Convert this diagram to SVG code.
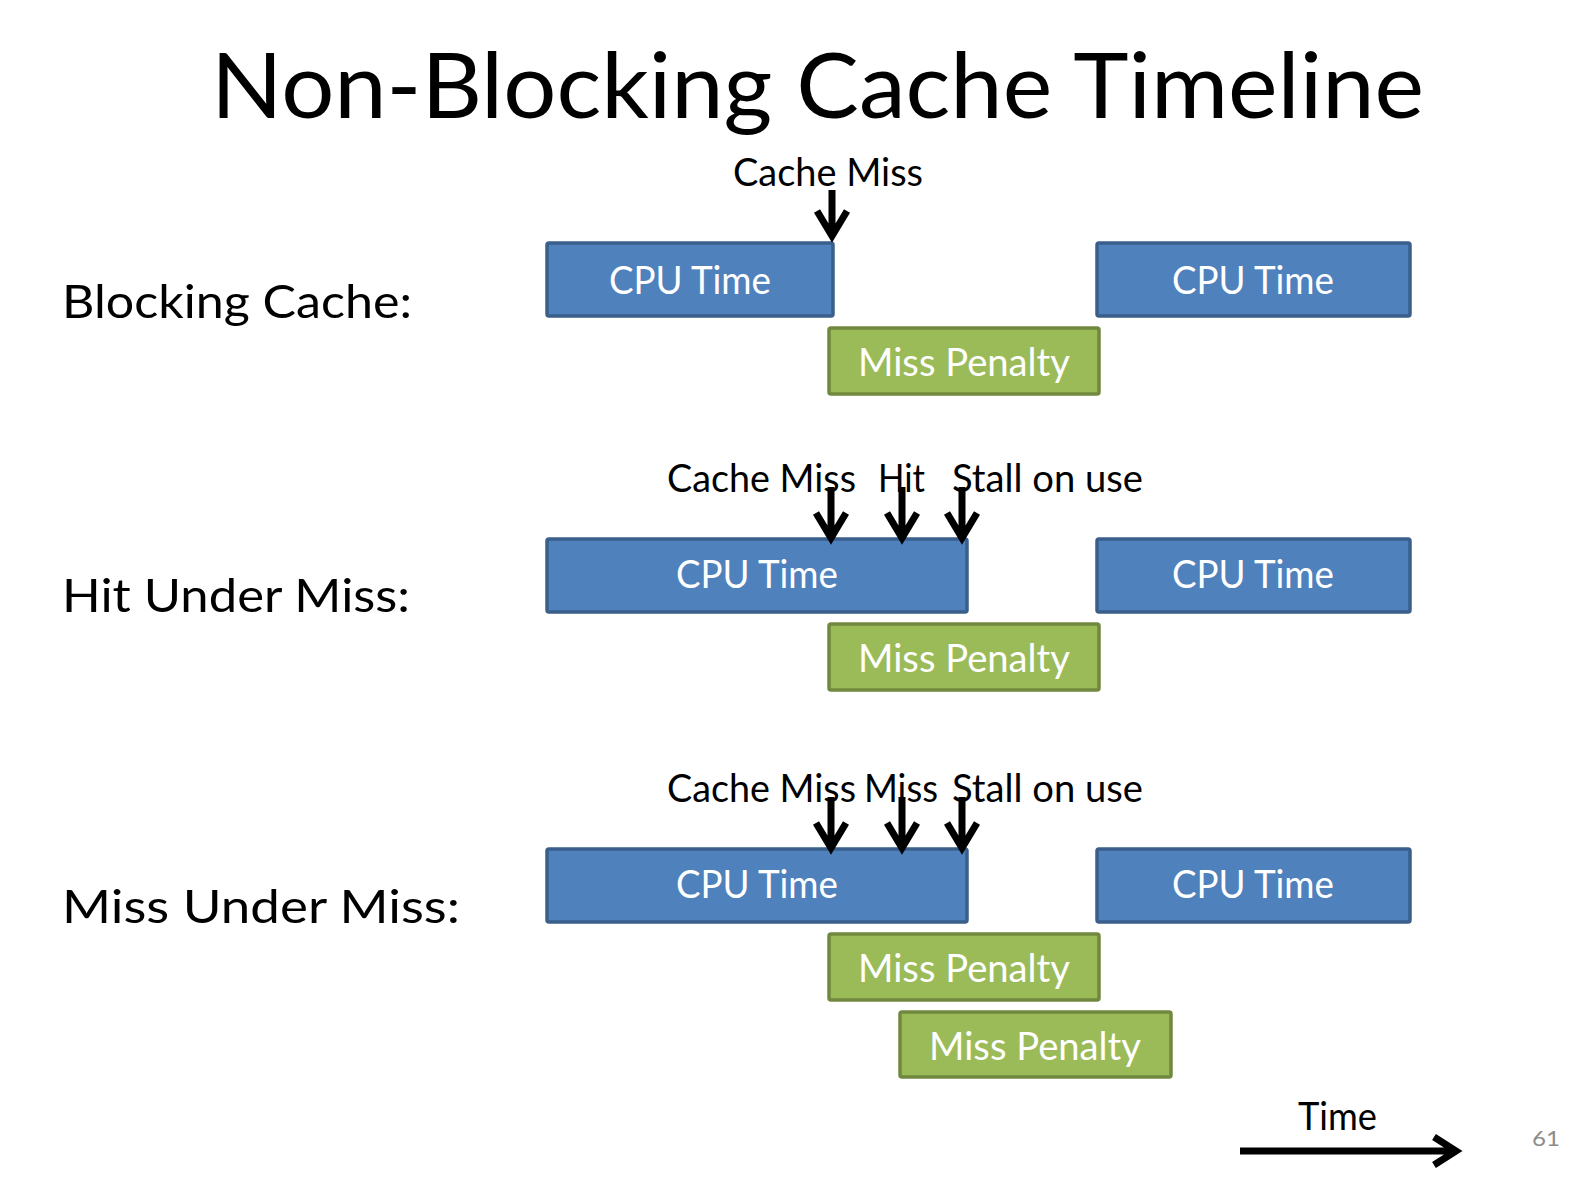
<svg xmlns="http://www.w3.org/2000/svg" width="1584" height="1184" viewBox="0 0 1584 1184">
<style>
text{font-family:Lato,"Liberation Sans",sans-serif;}
.title{font-size:92px;fill:#000;}
.label{font-size:47px;fill:#000;}
.note{font-size:38px;fill:#000;}
.btxt{font-size:38px;fill:#fff;text-anchor:middle;}
.cpu{fill:#4F81BD;stroke:#3A5F8B;stroke-width:3.5;}
.pen{fill:#9BBB59;stroke:#71893F;stroke-width:3.5;}
.arrow{fill:none;stroke:#000;stroke-width:7;stroke-linejoin:miter;}
.pg{font-size:21px;fill:#8C8C8C;}
</style>
<rect width="1584" height="1184" fill="#fff"/>
<text class="title" x="211" y="118" textLength="1213" lengthAdjust="spacingAndGlyphs">Non-Blocking Cache Timeline</text>
<text class="label" x="62" y="318" textLength="350" lengthAdjust="spacingAndGlyphs">Blocking Cache:</text>
<text class="label" x="62" y="612" textLength="348" lengthAdjust="spacingAndGlyphs">Hit Under Miss:</text>
<text class="label" x="62" y="923" textLength="398" lengthAdjust="spacingAndGlyphs">Miss Under Miss:</text>

<g id="row1">
<g id="cpu1a"><rect class="cpu" x="547" y="243" width="286" height="73" rx="2"/><text class="btxt" x="690" y="294" textLength="162" lengthAdjust="spacingAndGlyphs">CPU Time</text></g>
<g id="cpu1b"><rect class="cpu" x="1097" y="243" width="313" height="73" rx="2"/><text class="btxt" x="1253" y="294" textLength="162" lengthAdjust="spacingAndGlyphs">CPU Time</text></g>
<g id="pen1"><rect class="pen" x="829" y="328" width="270" height="66" rx="2"/><text class="btxt" x="964" y="376" textLength="212" lengthAdjust="spacingAndGlyphs">Miss Penalty</text></g>
<text class="note" x="733" y="186" textLength="190" lengthAdjust="spacingAndGlyphs">Cache Miss</text>
</g>

<g id="row2">
<g id="cpu2a"><rect class="cpu" x="547" y="539" width="420" height="73" rx="2"/><text class="btxt" x="757" y="588" textLength="162" lengthAdjust="spacingAndGlyphs">CPU Time</text></g>
<g id="cpu2b"><rect class="cpu" x="1097" y="539" width="313" height="73" rx="2"/><text class="btxt" x="1253" y="588" textLength="162" lengthAdjust="spacingAndGlyphs">CPU Time</text></g>
<g id="pen2"><rect class="pen" x="829" y="624" width="270" height="66" rx="2"/><text class="btxt" x="964" y="672" textLength="212" lengthAdjust="spacingAndGlyphs">Miss Penalty</text></g>
<text class="note" x="667" y="492" textLength="189" lengthAdjust="spacingAndGlyphs">Cache Miss</text>
<text class="note" x="878" y="492" textLength="47" lengthAdjust="spacingAndGlyphs">Hit</text>
<text class="note" x="952" y="492" textLength="191" lengthAdjust="spacingAndGlyphs">Stall on use</text>
</g>

<g id="row3">
<g id="cpu3a"><rect class="cpu" x="547" y="849" width="420" height="73" rx="2"/><text class="btxt" x="757" y="898" textLength="162" lengthAdjust="spacingAndGlyphs">CPU Time</text></g>
<g id="cpu3b"><rect class="cpu" x="1097" y="849" width="313" height="73" rx="2"/><text class="btxt" x="1253" y="898" textLength="162" lengthAdjust="spacingAndGlyphs">CPU Time</text></g>
<g id="pen3a"><rect class="pen" x="829" y="934" width="270" height="66" rx="2"/><text class="btxt" x="964" y="982" textLength="212" lengthAdjust="spacingAndGlyphs">Miss Penalty</text></g>
<g id="pen3b"><rect class="pen" x="900" y="1012" width="271" height="65" rx="2"/><text class="btxt" x="1035" y="1060" textLength="212" lengthAdjust="spacingAndGlyphs">Miss Penalty</text></g>
<text class="note" x="667" y="802" textLength="189" lengthAdjust="spacingAndGlyphs">Cache Miss</text>
<text class="note" x="864" y="802" textLength="74" lengthAdjust="spacingAndGlyphs">Miss</text>
<text class="note" x="952" y="802" textLength="191" lengthAdjust="spacingAndGlyphs">Stall on use</text>
</g>

<g id="connectors">
<path class="arrow" d="M832,190 V236 M817,211 L832,236 L847,211"/>
<path class="arrow" d="M831,487 V538 M816,513 L831,538 L846,513"/>
<path class="arrow" d="M902,487 V538 M887,513 L902,538 L917,513"/>
<path class="arrow" d="M962,487 V538 M947,513 L962,538 L977,513"/>
<path class="arrow" d="M831,797 V848 M816,823 L831,848 L846,823"/>
<path class="arrow" d="M902,797 V848 M887,823 L902,848 L917,823"/>
<path class="arrow" d="M962,797 V848 M947,823 L962,848 L977,823"/>
<path class="arrow" d="M1240,1151 H1455 M1434,1137 L1456,1151 L1434,1165"/>
</g>
<text class="note" x="1298" y="1130" textLength="79" lengthAdjust="spacingAndGlyphs">Time</text>
<text class="pg" x="1532" y="1146" textLength="28" lengthAdjust="spacingAndGlyphs">61</text>
</svg>
